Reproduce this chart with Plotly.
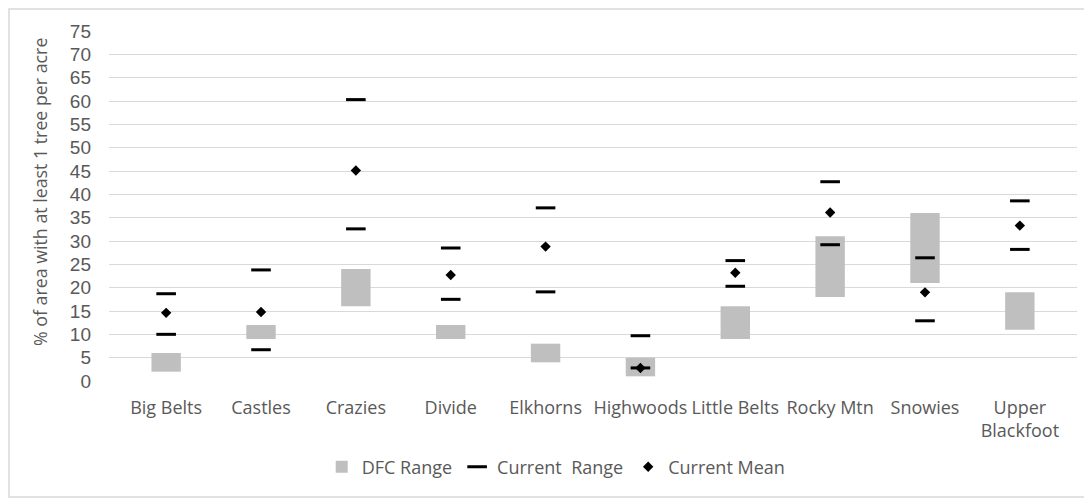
import plotly.graph_objects as go

categories = ["Big Belts", "Castles", "Crazies", "Divide", "Elkhorns", "Highwoods",
              "Little Belts", "Rocky Mtn", "Snowies", "Upper<br>Blackfoot"]
dfc_low = [2, 9, 16, 9, 4, 1, 9, 18, 21, 11]
dfc_high = [6, 12, 24, 12, 8, 5, 16, 31, 36, 19]
cur_low = [10.0, 6.7, 32.6, 17.5, 19.1, 2.8, 20.3, 29.2, 12.9, 28.2]
cur_high = [18.7, 23.8, 60.3, 28.5, 37.1, 9.7, 25.8, 42.7, 26.4, 38.6]
cur_mean = [14.6, 14.8, 45.1, 22.7, 28.8, 2.8, 23.2, 36.1, 19.0, 33.3]
y_ticks = list(range(0, 80, 5))
y_title = "% of area with at least 1 tree per acre"

font_family = "Open Sans, Liberation Sans, sans-serif"
text_col = "#595959"

# page body has an 8px margin, so the figure is sized/offset accordingly
W, H = 1084, 490
L, T, R, B = 101, 23, 15, 117
pw, ph = W - L - R, H - T - B

fig = go.Figure()
fig.add_trace(go.Bar(
    x=categories, y=[h - l for h, l in zip(dfc_high, dfc_low)], base=dfc_low,
    name="DFC Range", marker=dict(color="#BFBFBF", line=dict(width=0)), width=0.31,
))
range_x = categories + categories
range_y = cur_high + cur_low
fig.add_trace(go.Scatter(
    x=range_x, y=range_y, mode="markers", name="Current  Range",
    marker=dict(symbol="line-ew", size=14, color="black", line=dict(width=3, color="black")),
))
fig.add_trace(go.Scatter(
    x=categories, y=cur_mean, mode="markers", name="Current Mean",
    marker=dict(symbol="diamond", size=8, color="black"),
))

fig.update_layout(
    width=W, height=H,
    margin=dict(l=L, r=R, t=T, b=B),
    paper_bgcolor="white", plot_bgcolor="white",
    font=dict(family=font_family, size=18, color=text_col),
    showlegend=True,
    legend=dict(orientation="h", x=0.462, xanchor="center", y=-0.246, yanchor="middle",
                font=dict(size=18, color=text_col), traceorder="normal", itemwidth=30,
                bgcolor="rgba(0,0,0,0)"),
    yaxis=dict(range=[0, 75], tickvals=y_ticks, showgrid=True, gridcolor="#D9D9D9",
               gridwidth=1, zeroline=False, showline=False, ticks="", automargin=False,
               ticklabelstandoff=17,
               tickfont=dict(size=19, color=text_col, family="Liberation Sans, Arial, sans-serif")),
    xaxis=dict(showgrid=False, showline=False, ticks="", automargin=False,
               ticklabelstandoff=14, tickfont=dict(size=18, color=text_col)),
    annotations=[dict(text=y_title, textangle=-90, xref="paper", yref="paper",
                      x=(40 - 109) / pw, y=(381 - 192) / ph, xanchor="center", yanchor="middle",
                      showarrow=False, font=dict(size=17.8, color=text_col))],
    shapes=[dict(type="rect", xref="paper", yref="paper",
                 x0=(1 - L) / pw, x1=(W - 1 - L) / pw,
                 y0=-(B - 1) / ph, y1=1 + (T - 1) / ph,
                 line=dict(color="#D9D9D9", width=1.5), fillcolor="rgba(0,0,0,0)", layer="below")],
)

fig.write_html("out.html")
